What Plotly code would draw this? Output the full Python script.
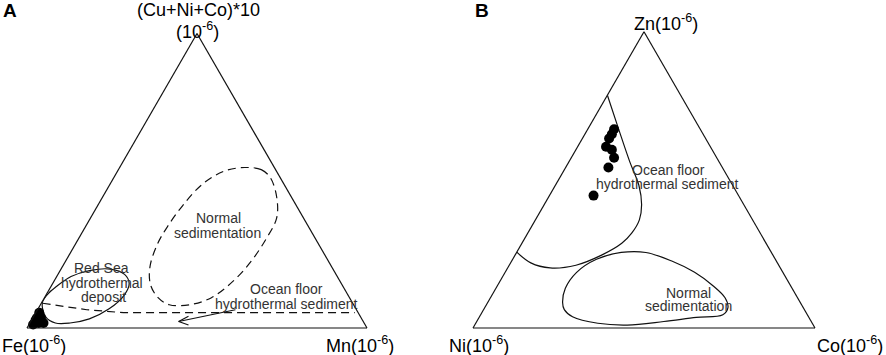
import plotly.graph_objects as go

W, H = 886, 355

# ---------------- Panel A: (Cu+Ni+Co)*10 (a) - Fe (b) - Mn (c), percentages ----------------
A_NORMAL = [(54.5, 8.7, 36.8), (53.8, 4.2, 42.0), (50.9, 2.9, 46.2), (44.0, 4.5, 51.5),
            (37.2, 8.0, 54.8), (30.3, 14.5, 55.2), (22.7, 22.7, 54.6), (16.2, 31.0, 52.8),
            (10.3, 40.6, 49.1), (7.9, 48.2, 43.9), (7.9, 54.2, 37.9), (10.3, 56.3, 33.4),
            (14.8, 56.3, 28.9), (21.0, 53.3, 25.7), (28.6, 47.3, 24.1), (34.4, 41.5, 24.1),
            (41.6, 33.4, 25.0), (48.9, 23.9, 27.2), (53.3, 15.3, 31.4)]
A_REDSEA = [(8.6, 91.2, 0.2), (3.8, 92.6, 3.6), (1.7, 90.8, 7.5), (1.7, 86.5, 11.8),
            (3.1, 80.1, 16.8), (6.5, 72.6, 20.9), (11.0, 66.0, 23.0), (15.1, 62.4, 22.5),
            (18.2, 62.2, 19.6), (20.0, 65.5, 14.5), (19.6, 71.5, 8.9), (17.5, 78.3, 4.2),
            (14.1, 84.3, 1.6), (11.7, 87.9, 0.4)]
A_OCEAN_LINE = [(8.4, 91.2, 0.4), (6.2, 79.3, 14.5), (5.2, 69.0, 25.8), (5.2, 1.0, 93.8)]
A_ARROW_SHAFT = [(6.2, 35.6, 58.2), (2.2, 54.3, 43.5)]
A_ARROW_HEAD = [(4.0, 50.5, 45.5), (2.2, 54.3, 43.5), (1.0, 52.0, 47.0)]
A_SAMPLES = [(5.2, 93.8, 1.0), (3.4, 95.4, 1.2), (3.4, 94.2, 2.4), (1.7, 96.8, 1.5),
             (1.7, 95.7, 2.6), (1.7, 94.3, 4.0), (2.6, 96.2, 1.2), (1.2, 97.6, 1.2)]

# ---------------- Panel B: Zn (a) - Ni (b) - Co (c), percentages ----------------
B_OCEAN = [(78.6, 21.4, 0.0), (66.4, 24.0, 9.6), (56.1, 26.1, 17.8), (48.2, 27.4, 24.4),
           (41.6, 29.9, 28.5), (36.5, 33.1, 30.4), (32.0, 37.6, 30.4), (28.6, 42.2, 29.2),
           (24.6, 50.1, 25.3), (21.2, 59.3, 19.5), (20.3, 67.3, 12.4), (22.0, 72.1, 5.9),
           (25.6, 74.4, 0.0)]
B_NORMAL = [(8.6, 69.5, 21.9), (13.4, 66.3, 20.3), (18.8, 60.3, 20.9), (23.2, 52.3, 24.5),
            (25.5, 43.9, 30.6), (25.5, 36.7, 37.8), (22.7, 30.7, 46.6), (18.8, 25.8, 55.4),
            (14.1, 22.6, 63.3), (10.2, 21.2, 68.6), (6.9, 22.0, 71.1), (4.5, 24.7, 70.8),
            (3.6, 32.9, 63.5), (2.2, 43.1, 54.7), (1.0, 54.4, 44.6), (1.6, 62.7, 35.7),
            (3.8, 69.0, 27.2), (6.2, 70.2, 23.6)]
B_SAMPLES = [(67.1, 25.2, 7.7), (65.4, 26.7, 7.9), (64.0, 28.2, 7.8), (61.2, 30.5, 8.3),
             (60.2, 29.3, 10.5), (57.5, 30.0, 12.5), (54.2, 33.3, 12.5), (44.7, 42.4, 12.9)]

FONT = "Liberation Sans, Arial, sans-serif"
LINE = "#111111"


def cols(pts, close=False):
    p = list(pts) + ([pts[0]] if close else [])
    return [q[0] for q in p], [q[1] for q in p], [q[2] for q in p]


def curve(pts, sub, close=False, dash="solid", spline=True):
    a, b, c = cols(pts, close)
    return go.Scatterternary(a=a, b=b, c=c, subplot=sub, mode="lines",
                             line=dict(color=LINE, width=1.2, dash=dash,
                                       shape="spline" if spline else "linear", smoothing=1.0),
                             hoverinfo="skip", showlegend=False, cliponaxis=False)


def dots(pts, sub):
    a, b, c = cols(pts)
    return go.Scatterternary(a=a, b=b, c=c, subplot=sub, mode="markers",
                             marker=dict(color="black", size=10, line=dict(width=0)),
                             hoverinfo="skip", showlegend=False, cliponaxis=False)


fig = go.Figure()
fig.add_trace(curve(A_NORMAL, "ternary", close=True, dash="8px,5px"))
fig.add_trace(curve(A_REDSEA, "ternary", close=True))
fig.add_trace(curve(A_OCEAN_LINE, "ternary", dash="8px,5px", spline=False))
fig.add_trace(curve(A_ARROW_SHAFT, "ternary", spline=False))
fig.add_trace(curve(A_ARROW_HEAD, "ternary", spline=False))
fig.add_trace(dots(A_SAMPLES, "ternary"))

fig.add_trace(curve(B_OCEAN, "ternary2"))
fig.add_trace(curve(B_NORMAL, "ternary2", close=True))
fig.add_trace(dots(B_SAMPLES, "ternary2"))


def axis():
    return dict(showticklabels=False, ticks="", showgrid=False, showline=True,
                linecolor=LINE, linewidth=1.2, title=dict(text=" "), min=0)


def domain(left_px, width_px, base_px):
    h = width_px * 3 ** 0.5 / 2
    return dict(x=[left_px / W, (left_px + width_px) / W],
                y=[(H - base_px) / H, (H - base_px + h) / H])


tern = dict(sum=100, bgcolor="white", aaxis=axis(), baxis=axis(), caxis=axis())
fig.update_layout(
    width=W, height=H, margin=dict(l=0, r=0, t=0, b=0),
    paper_bgcolor="white", plot_bgcolor="white", template="none",
    ternary=dict(domain=domain(27, 340, 328), **tern),
    ternary2=dict(domain=domain(473, 342, 328), **tern),
    showlegend=False,
)


def ann(text, px, py, size=18, color="black", bold=False):
    if bold:
        text = "<b>" + text + "</b>"
    fig.add_annotation(text=text, x=px / W, y=1 - py / H, xref="paper", yref="paper",
                       xanchor="center", yanchor="middle", showarrow=False,
                       font=dict(family=FONT, size=size, color=color))


SUP = "(10<sup>-6</sup>)"
# corner labels
ann("A", 10, 11, size=19, bold=True)
ann("(Cu+Ni+Co)*10", 198.5, 10)
ann(SUP, 197.5, 30)
ann("Fe" + SUP, 34, 344)
ann("Mn" + SUP, 360, 344)
ann("B", 482, 11, size=19, bold=True)
ann("Zn" + SUP, 665.5, 22)
ann("Ni" + SUP, 478.5, 344)
ann("Co" + SUP, 849.5, 344)

# region labels
G = "#333333"
ann("Normal", 218.5, 218.5, 14, G)
ann("sedimentation", 217.5, 233, 14, G)
ann("Red Sea", 101.5, 267.5, 14, G)
ann("hydrothermal", 101.5, 282.5, 14, G)
ann("deposit", 103, 297, 14, G)
ann("Ocean floor", 286, 289, 14, G)
ann("hydrothermal sediment", 286, 304, 14, G)
ann("Ocean floor", 668, 170, 14, G)
ann("hydrothermal sediment", 667, 184, 14, G)
ann("Normal", 688, 292.5, 14, G)
ann("sedimentation", 688, 306, 14, G)

fig.write_html("out.html", config={"displayModeBar": False, "staticPlot": True},
               post_script="document.body.style.margin='0';document.body.style.overflow='hidden';")
